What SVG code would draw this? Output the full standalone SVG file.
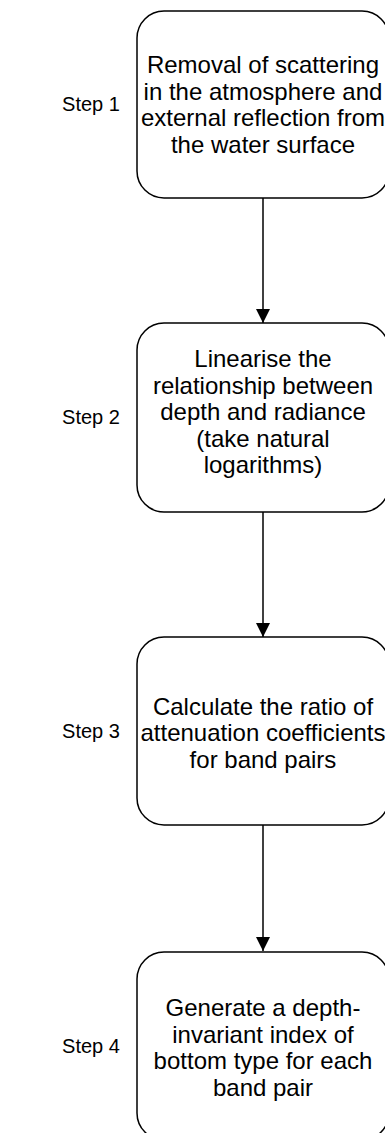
<svg xmlns="http://www.w3.org/2000/svg" width="385" height="1133" viewBox="0 0 385 1133">
<style>
.box{fill:#fff;stroke:#000;stroke-width:1.5}
.t{font-family:"Liberation Sans",Arial,sans-serif;font-size:24px;fill:#000;text-anchor:middle}
.s{font-family:"Liberation Sans",Arial,sans-serif;font-size:20px;fill:#000;text-anchor:middle}
.c{stroke:#000;stroke-width:1.5;fill:none}
</style>
<defs>
<marker id="ah" markerUnits="userSpaceOnUse" markerWidth="14" markerHeight="14" refX="14" refY="7" orient="auto" viewBox="0 0 14 14">
<path d="M0,0 L14,7 L0,14 Z" fill="#000"/>
</marker>
</defs>
<rect width="385" height="1133" fill="#fff"/>
<g id="connectors">
<line class="c" x1="263" y1="198" x2="263" y2="323" marker-end="url(#ah)"/>
<line class="c" x1="263" y1="512" x2="263" y2="637" marker-end="url(#ah)"/>
<line class="c" x1="263" y1="825" x2="263" y2="951" marker-end="url(#ah)"/>
</g>
<g id="step1">
<rect class="box" x="137" y="11" width="252" height="187" rx="27" ry="27"/>
<text class="t" x="263" y="73">Removal of scattering</text>
<text class="t" x="263" y="99.5">in the atmosphere and</text>
<text class="t" x="263" y="126">external reflection from</text>
<text class="t" x="263" y="152.5">the water surface</text>
</g>
<g id="step2">
<rect class="box" x="137" y="323" width="252" height="189" rx="27" ry="27"/>
<text class="t" x="263" y="367">Linearise the</text>
<text class="t" x="263" y="393.5">relationship between</text>
<text class="t" x="263" y="420">depth and radiance</text>
<text class="t" x="263" y="446.5">(take natural</text>
<text class="t" x="263" y="473">logarithms)</text>
</g>
<g id="step3">
<rect class="box" x="137" y="637" width="252" height="188" rx="27" ry="27"/>
<text class="t" x="263" y="714.5">Calculate the ratio of</text>
<text class="t" x="263" y="741">attenuation coefficients</text>
<text class="t" x="263" y="767.5">for band pairs</text>
</g>
<g id="step4">
<rect class="box" x="137" y="952" width="252" height="188" rx="27" ry="27"/>
<text class="t" x="263" y="1016">Generate a depth-</text>
<text class="t" x="263" y="1042.5">invariant index of</text>
<text class="t" x="263" y="1069">bottom type for each</text>
<text class="t" x="263" y="1095.5">band pair</text>
</g>
<g id="labels">
<text class="s" x="91" y="111">Step 1</text>
<text class="s" x="91" y="424">Step 2</text>
<text class="s" x="91" y="738">Step 3</text>
<text class="s" x="91" y="1053">Step 4</text>
</g>
</svg>
